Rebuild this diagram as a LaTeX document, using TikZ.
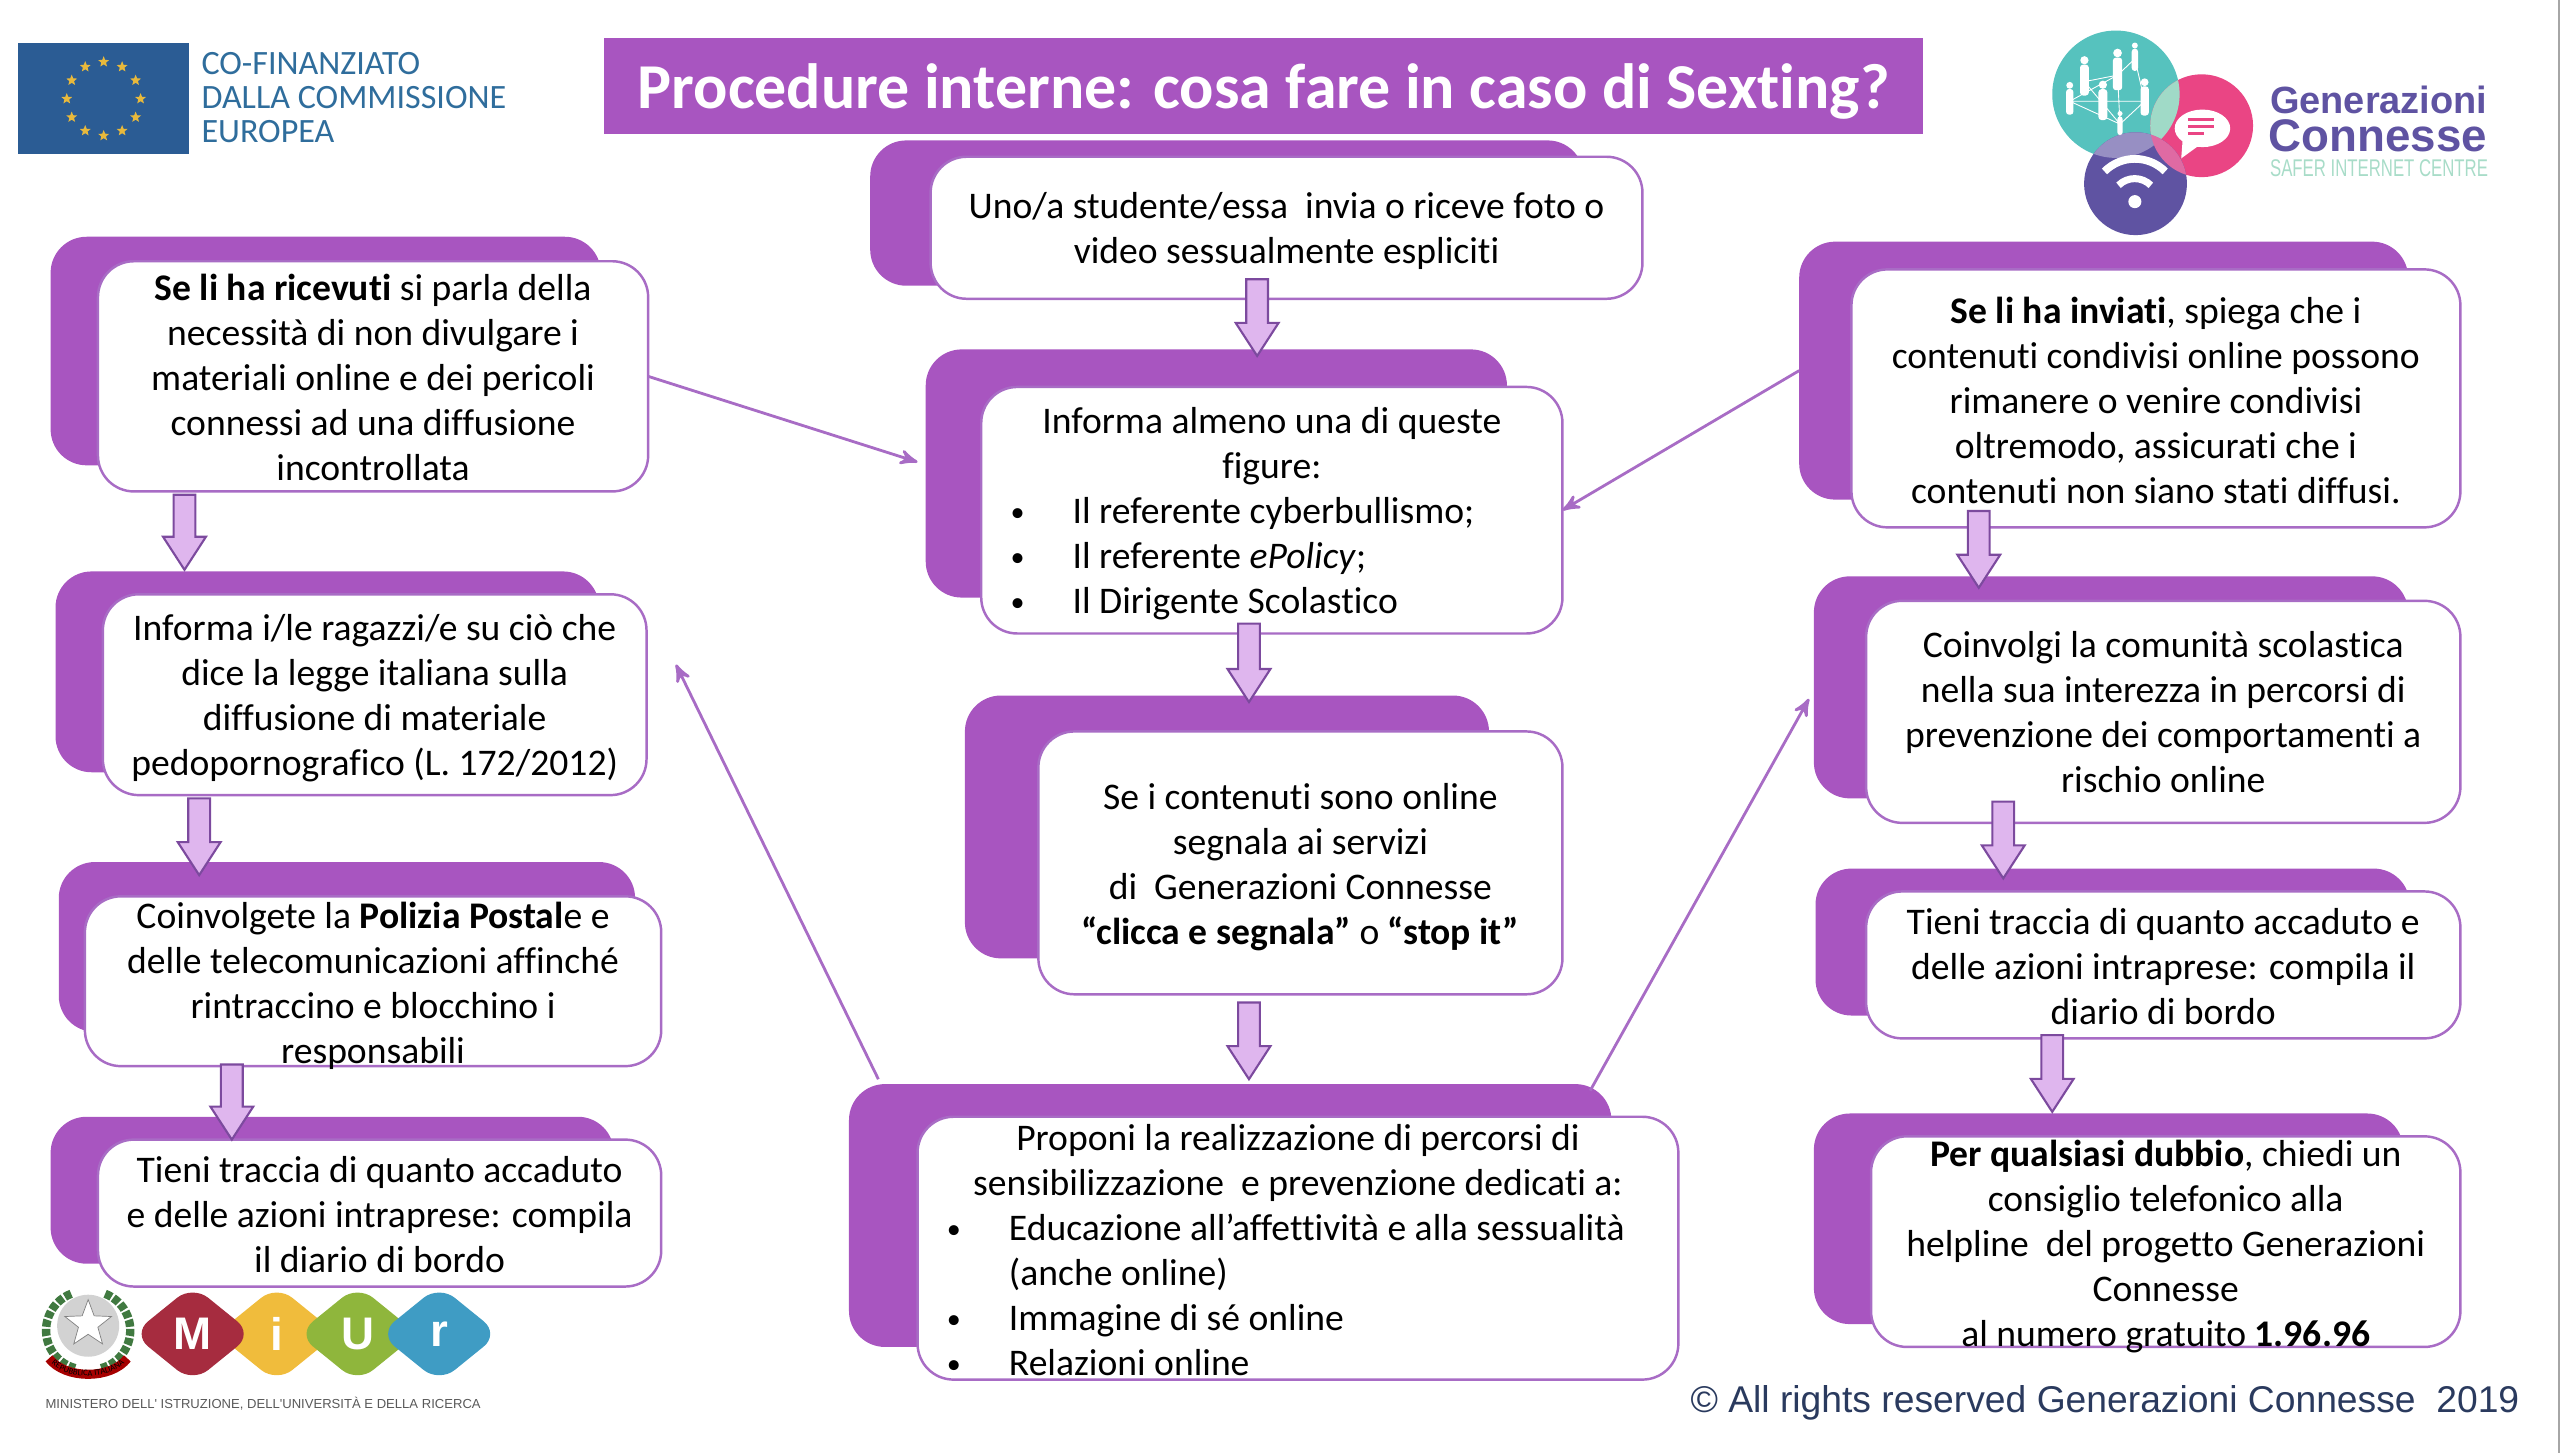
\documentclass[tikz,border=0pt]{standalone}
\usepackage{fontspec}
\setmainfont[Ligatures=NoCommon]{Carlito}
\newfontfamily\arialfont{Liberation Sans}
\usepackage{tikz}
\usetikzlibrary{arrows, calc, shapes.geometric, decorations.text}
\newlength{\unitpx}
\setlength{\unitpx}{0.016327cm}
\definecolor{panel}{HTML}{A855C0}
\definecolor{edgeline}{HTML}{A86CC5}
\definecolor{arrowline}{HTML}{7C4A9E}
\definecolor{arrowfill}{HTML}{DFB6EE}
\definecolor{euroblue}{HTML}{2B5C94}
\definecolor{eurotext}{HTML}{2F6D9C}
\definecolor{eurostar}{HTML}{E8B93C}
\definecolor{gcteal}{HTML}{56C2BE}
\definecolor{gcpink}{HTML}{EA4584}
\definecolor{gcviolet}{HTML}{5F53A2}
\definecolor{gcmint}{HTML}{A8DCC8}
\definecolor{copytext}{HTML}{2A3A5E}
\definecolor{miurred}{HTML}{A62C3F}
\definecolor{miuryellow}{HTML}{F0BC3C}
\definecolor{miurgreen}{HTML}{8FB63C}
\definecolor{miurblue}{HTML}{3F9CC4}
\newcommand{\bul}[1]{\hbox{\hspace{18\unitpx}\makebox[38\unitpx][l]{\raisebox{0.5pt}{\fontsize{8}{8}\selectfont\textbullet}}#1}}
\newcommand{\cont}[1]{\hbox{\hspace{56\unitpx}#1}}
\newcommand{\dropped}[1]{\rule{0pt}{\dimexpr 7.6pt+2\dimexpr #1\unitpx\relax\relax}}
\begin{document}
\begin{tikzpicture}[x=\unitpx,y=-\unitpx,>=stealth',
    size/.style 2 args={minimum width=#1*\unitpx,minimum height=#2*\unitpx},
    back node/.style={fill=panel,rounded corners=0.36cm,inner sep=0pt,outer sep=0pt},
    main node/.style={draw=edgeline,fill=white,line width=0.7pt,rounded corners=0.36cm,inner sep=0pt,outer sep=0pt,align=center,font=\fontsize{10.7}{12.8}\selectfont},
    text node/.style={inner sep=0pt,align=center,font=\fontsize{10.7}{12.8}\selectfont},
    thin arrow/.style={->,draw=edgeline,line width=0.8pt},
    blockarrow/.style 2 args={draw=arrowline,fill=arrowfill,line width=0.6pt,
      to path={let \p1=($(\tikztostart)+(0,#1)$),\p2=($(\tikztotarget)+(0,#2)$) in
        (\x1-3.1pt,\y1) -- (\x1-3.1pt,\y2+9.4pt) -- (\x1-6.1pt,\y2+9.4pt) -- (\x1,\y2)
        -- (\x1+6.1pt,\y2+9.4pt) -- (\x1+3.1pt,\y2+9.4pt) -- (\x1+3.1pt,\y1) -- cycle}},
    mark letter/.style={diamond,rounded corners=0.2cm,inner sep=0pt,size={74}{60},text=white,font=\arialfont\bfseries\fontsize{13}{13}\selectfont}]
  \useasboundingbox (0,0) rectangle (1568,889.94);
  \fill[gray!70] (1566.5,0) rectangle (1568,889.94);

  \node[fill=panel,size={808}{59},text=white,inner sep=0pt,font=\bfseries\fontsize{18.2}{20}\selectfont] (title) at (774,52.5) {\rule{0pt}{16pt}Procedure interne: cosa fare in caso di Sexting?};

  \node[fill=euroblue,size={105}{68}] (flag) at (63.5,60.5) {};
  \foreach \a in {0,30,...,330}
    \node[star,star points=5,star point ratio=2.3,fill=eurostar,inner sep=0pt,minimum size=7*\unitpx] at ($(flag)+(\a:22.6)$) {};
  \node[anchor=west,align=left,text=eurotext,inner sep=0pt,font=\fontsize{9.7}{9.7}\selectfont] (eutext) at (123,60) {CO-FINANZIATO\\DALLA COMMISSIONE\\EUROPEA};

  \fill[gcteal] (1296,57.7) circle (39);
  \fill[gcpink] (1348.5,77) circle (31.5);
  \fill[gcviolet] (1308,112.5) circle (31.5);
  \begin{scope}
    \clip (1296,57.7) circle (39);
    \fill[gcmint!90!gcteal] (1348.5,77) circle (31.5);
    \fill[gcviolet!65!white] (1308,112.5) circle (31.5);
  \end{scope}
  \begin{scope}
    \clip (1348.5,77) circle (31.5);
    \fill[gcpink!70!white!85!violet] (1308,112.5) circle (31.5);
  \end{scope}
  \draw[white,line width=0.25pt] (1276.7,50) -- (1297,46) -- (1307.6,36) -- (1313.6,62) -- (1298.5,76) -- (1267.7,62) -- (1288,62) -- (1313.6,62) (1276.7,50) -- (1298.5,76) -- (1297,46) (1267.7,62) -- (1297,46);
  \foreach \x/\y/\s in {1276.7/45/0.9,1297/41/0.95,1307.6/33.7/0.65,1267.7/59/0.75,1288/60/0.9,1313.6/58/0.85,1298.5/74.5/0.55} {
    \fill[white] (\x,\y-9*\s) circle (2.8*\s);
    \fill[white,rounded corners=0.03cm] (\x-3*\s,\y-6*\s) rectangle (\x+3*\s,\y+15*\s);
  }
  \fill[white] (1349,78.6) ellipse (17 and 11.5);
  \fill[white] (1337,84) -- (1336,97) -- (1347,89) -- cycle;
  \foreach \y/\w in {73/14,77.5/14,82/8}
    \draw[gcpink,line width=0.8pt] (1340,\y) -- ++(\w+2,0);
  \fill[white] (1307.6,123.5) circle (4);
  \draw[white,line width=2pt] (1297.6,113.5) arc (225:315:14);
  \draw[white,line width=2.2pt] (1289,105) arc (225:315:26.3);
  \node[anchor=base west,text=gcviolet,inner sep=0pt,font=\arialfont\bfseries\fontsize{10.8}{11}\selectfont] (gen) at (1390,69.5) {Generazioni};
  \node[anchor=base west,text=gcviolet,inner sep=0pt,font=\arialfont\bfseries\fontsize{13}{13}\selectfont] (conn) at (1389,92.5) {Connesse};
  \node[anchor=base west,text=gcmint,inner sep=0pt,font=\arialfont\fontsize{6.7}{7}\selectfont] (safer) at (1390,108) {\resizebox{62pt}{4.8pt}{SAFER INTERNET CENTRE}};

  \node[back node,size={437}{89}] (unob) at (751.5,130.5) {};
  \node[back node,size={356}{152}] (informab) at (745,290) {};
  \node[back node,size={321}{161}] (segnalab) at (751.5,506.5) {};
  \node[back node,size={467}{161}] (proponib) at (753.5,744.5) {};
  \node[back node,size={337}{140}] (ricevutib) at (199.5,215) {};
  \node[back node,size={333}{123}] (leggeb) at (200.5,411.5) {};
  \node[back node,size={353}{104}] (poliziab) at (212.5,580) {};
  \node[back node,size={345}{90}] (diariolb) at (203.5,729) {};
  \node[back node,size={373}{158}] (inviatib) at (1288.5,227) {};
  \node[back node,size={364}{136}] (comunitab) at (1293,421) {};
  \node[back node,size={364}{90}] (diariorb) at (1294,577) {};
  \node[back node,size={361}{129}] (dubbiob) at (1291.5,746.5) {};

  \node[main node,size={436}{87}] (uno) at (788,139.5) {\dropped{2}Uno/a studente/essa\ \ invia o riceve foto o\\video sessualmente espliciti};
  \node[main node,size={356}{151}] (informa) at (779,312.5) {\parbox{356\unitpx}{\centerline{\dropped{2}Informa almeno una di queste}\centerline{figure:}\bul{Il referente cyberbullismo;}\bul{Il referente \textit{ePolicy};}\bul{Il Dirigente Scolastico}}};
  \node[main node,size={321}{161}] (segnala) at (796.5,528.5) {\dropped{2.5}Se i contenuti sono online\\segnala ai servizi\\di\ \ Generazioni Connesse\\\textbf{“clicca e segnala”} o \textbf{“stop it”}};
  \node[main node,size={466}{161}] (proponi) at (795,764.5) {\parbox{466\unitpx}{\centerline{\dropped{1}Proponi la realizzazione di percorsi di}\centerline{sensibilizzazione\ \ e prevenzione dedicati a:}\bul{Educazione all’affettività e alla sessualità}\cont{(anche online)}\bul{Immagine di sé online}\bul{Relazioni online}}};
  \node[main node,size={337}{141}] (ricevuti) at (228.5,230.5) {\dropped{0.5}\textbf{Se li ha ricevuti} si parla della\\necessità di non divulgare i\\materiali online e dei pericoli\\connessi ad una diffusione\\incontrollata};
  \node[main node,size={333}{123}] (legge) at (229.5,425.5) {\dropped{2}Informa i/le ragazzi/e su ciò che\\dice la legge italiana sulla\\diffusione di materiale\\pedopornografico (L. 172/2012)};
  \node[main node,size={353}{104}] (polizia) at (228.5,601) {};
  \node[text node] (poliziat) at (228.5,603.7) {Coinvolgete la \textbf{Polizia Postal}e e\\delle telecomunicazioni affinché\\rintraccino e blocchino i\\responsabili};
  \node[main node,size={345}{90}] (diariol) at (232.5,743) {\dropped{0.5}Tieni traccia di quanto accaduto\\e delle azioni intraprese: compila\\il diario di bordo};
  \node[main node,size={373}{158}] (inviati) at (1320.5,244) {\dropped{1}\textbf{Se li ha inviati}, spiega che i\\contenuti condivisi online possono\\rimanere o venire condivisi\\oltremodo, assicurati che i\\contenuti non siano stati diffusi.};
  \node[main node,size={364}{136}] (comunita) at (1325,436) {Coinvolgi la comunità scolastica\\nella sua interezza in percorsi di\\prevenzione dei comportamenti a\\rischio online};
  \node[main node,size={364}{90}] (diarior) at (1325,591) {\dropped{1}Tieni traccia di quanto accaduto e\\delle azioni intraprese: compila il\\diario di bordo};
  \node[main node,size={361}{129}] (dubbio) at (1326.5,760.5) {};
  \node[text node] (dubbiot) at (1326.5,763.7) {\textbf{Per qualsiasi dubbio}, chiedi un\\consiglio telefonico alla\\helpline\ \ del progetto Generazioni\\Connesse\\al numero gratuito \textbf{1.96.96}};

  \coordinate (informain) at (562,283);
  \coordinate (leggein) at (414,407);
  \coordinate (comunitain) at (1108,428);
  \coordinate (proponil) at (538,661);
  \coordinate (proponir) at (974,668);
  \draw[thin arrow] (ricevuti.east) -- (informain);
  \draw[thin arrow] (inviatib.west) -- (informa.east);
  \draw[thin arrow] (proponil) -- (leggein);
  \draw[thin arrow] (proponir) -- (comunitain);

  \path[blockarrow={-12}{4}] (uno.south -| 770,0) to (informab.north -| 770,0);
  \path[blockarrow={-6}{4}] (informa.south -| 765,0) to (segnalab.north -| 765,0);
  \path[blockarrow={5}{-3}] (segnala.south -| 765,0) to (proponib.north -| 765,0);
  \path[blockarrow={2}{-1}] (ricevuti.south -| 113,0) to (leggeb.north -| 113,0);
  \path[blockarrow={2}{8}] (legge.south -| 122,0) to (poliziab.north -| 122,0);
  \path[blockarrow={-1}{14}] (polizia.south -| 142,0) to (diariolb.north -| 142,0);
  \path[blockarrow={-10}{7}] (inviati.south -| 1212,0) to (comunitab.north -| 1212,0);
  \path[blockarrow={-13}{6}] (comunita.south -| 1227,0) to (diariorb.north -| 1227,0);
  \path[blockarrow={-2}{-1}] (diarior.south -| 1257,0) to (dubbiob.north -| 1257,0);

  \fill[gray!35] (54,812) circle (19);
  \node[star,star points=5,star point ratio=2.4,fill=white,draw=gray,line width=0.2pt,inner sep=0pt,minimum size=30*\unitpx] (emblem) at (54,811) {};
  \draw[green!30!black!75,line width=2.4pt,dash pattern=on 2pt off 0.6pt] (46,838) arc (105:250:24);
  \draw[green!30!black!75,line width=2.4pt,dash pattern=on 2pt off 0.6pt] (62,838) arc (75:-70:24);
  \draw[red!65!black,line width=2.6pt] (30,832) .. controls (40,845) and (68,845) .. (78,832);
  \path[decorate,decoration={text along path,text align=center,raise=-0.5pt,text color=black,text={|\fontsize{2.4}{2.4}\selectfont|REPUBBLICA ITALIANA}}] (30,832) .. controls (40,845) and (68,845) .. (78,832);

  \node[mark letter,fill=miuryellow] at (169.5,817) (marki) {i};
  \node[mark letter,fill=miurred] at (118,817) (markm) {M};
  \node[mark letter,fill=miurgreen] at (219,817) (marku) {U};
  \node[mark letter,fill=miurblue] at (269,817) (markr) {r};
  \node[anchor=west,inner sep=0pt,text=black!65,font=\arialfont\fontsize{3.72}{5}\selectfont] (ministero) at (27.5,860) {MINISTERO DELL' ISTRUZIONE, DELL'UNIVERSITÀ E DELLA RICERCA};
  \node[anchor=base west,inner sep=0pt,text=copytext,font=\arialfont\fontsize{10.6}{12}\selectfont] (rights) at (1035,865) {© All rights reserved Generazioni Connesse\ \ 2019};
\end{tikzpicture}
\end{document}
